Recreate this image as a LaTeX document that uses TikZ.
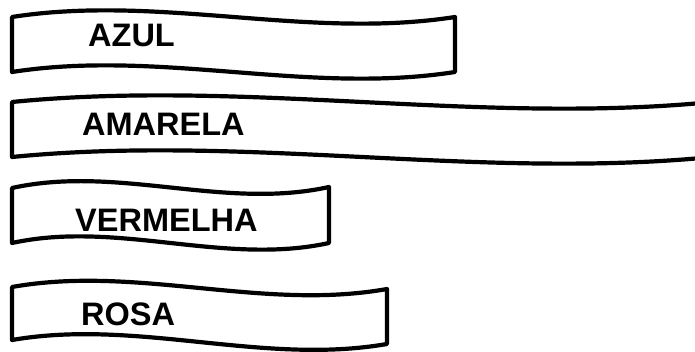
\documentclass[tikz,border=0pt]{standalone}
\usepackage{fontspec}
\setmainfont{Liberation Sans}
\newcommand\mywave[6]{%
  (#1,#3) .. controls ({#1+(#2-#1)/3},{#3+(#4-#3)/3-23}) and ({#1+2*(#2-#1)/3},{#3+2*(#4-#3)/3+23}) .. (#2,#4)
  -- (#2,#6) .. controls ({#1+2*(#2-#1)/3},{#5+2*(#6-#5)/3+23}) and ({#1+(#2-#1)/3},{#5+(#6-#5)/3-23}) .. (#1,#5) -- cycle}
\begin{document}
\begin{tikzpicture}[x=1pt,y=-1pt]
\tikzset{
  wavebox/.style={draw=black, line width=4.2pt, line join=round, fill=white},
  lbl/.style={font=\bfseries\fontsize{32.5}{32.5}\selectfont, anchor=base west, inner sep=0pt}
}
\useasboundingbox (0,0) rectangle (695,352);
\clip (0,0) rectangle (695,352);
\fill[white] (0,0) rectangle (695,352);
\draw[wavebox] \mywave{12}{455}{17}{17}{72}{72};
\draw[wavebox] \mywave{12}{712}{102}{102}{157}{157};
\draw[wavebox] \mywave{12}{329}{188}{187}{243}{243};
\draw[wavebox] \mywave{12}{387}{287}{289}{340}{344};
\node[lbl] (azul) at (88,47) {AZUL};
\node[lbl] (amarela) at (82,136) {AMARELA};
\node[lbl] (vermelha) at (75,232) {VERMELHA};
\node[lbl] (rosa) at (81,325) {ROSA};
\end{tikzpicture}
\end{document}
